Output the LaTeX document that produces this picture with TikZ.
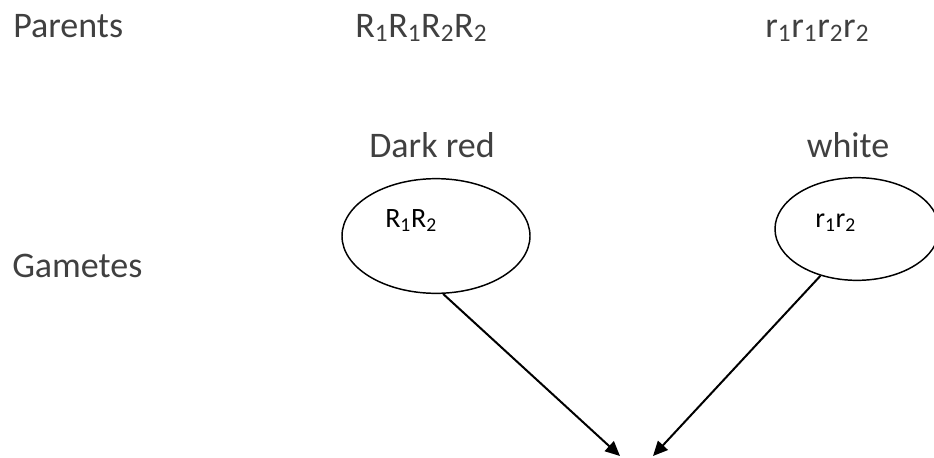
\documentclass[tikz,border=0pt]{standalone}
\usepackage{fontspec}
\setmainfont{Carlito}
\usetikzlibrary{shapes.geometric, arrows.meta}
\definecolor{textgrey}{HTML}{404040}

\begin{document}
\begin{tikzpicture}[x=0.75pt, y=-0.75pt, >={Triangle[length=11pt, width=10pt]}]
\useasboundingbox (0,0) rectangle (934,457);
\tikzset{
  bigtext/.style={font=\fontsize{27}{32}\selectfont, text=textgrey, inner sep=0pt},
  smalltext/.style={font=\fontsize{21}{25}\selectfont, inner sep=0pt},
  gamete/.style={draw, ellipse, line width=1.1pt, inner sep=0pt}
}
% row labels
\node[bigtext, anchor=base west] (parents) at (13,37) {Parents};
\node[bigtext, anchor=base west] (gametes) at (12,277) {Gametes};
% parents
\node[bigtext, anchor=base west] (pdark) at (355,37) {R\textsubscript{1}R\textsubscript{1}R\textsubscript{2}R\textsubscript{2}};
\node[bigtext, anchor=base west] (pwhite) at (765,37) {r\textsubscript{1}r\textsubscript{1}r\textsubscript{2}r\textsubscript{2}};
\node[bigtext, anchor=base] (darkred) at (432,157) {Dark red};
\node[bigtext, anchor=base] (white) at (848,157) {white};
% gametes
\node[gamete, minimum width=141pt, minimum height=86pt] (lgam) at (436,236) {};
\node[gamete, minimum width=123pt, minimum height=77pt] (rgam) at (857,229) {};
\node[smalltext, anchor=base west] (lgamtext) at (385,227) {R\textsubscript{1}R\textsubscript{2}};
\node[smalltext, anchor=base west] (rgamtext) at (815,227) {r\textsubscript{1}r\textsubscript{2}};
% arrows
\coordinate (tipL) at (620,456);
\coordinate (tipR) at (653,456);
\draw[->, line width=1.5pt] (lgam.277) -- (tipL);
\draw[->, line width=1.5pt] (rgam.232) -- (tipR);
\end{tikzpicture}
\end{document}
